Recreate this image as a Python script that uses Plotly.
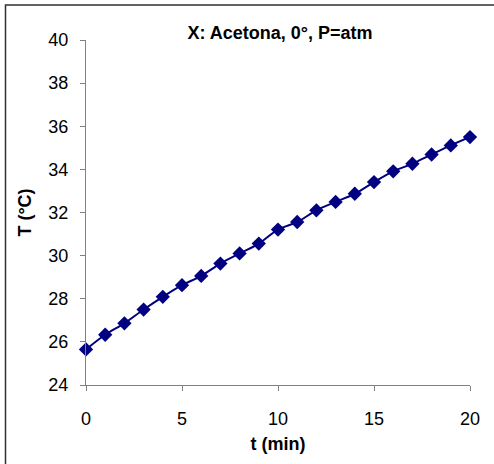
import plotly.graph_objects as go

t_min = list(range(0, 21))
temp_c = [25.65, 26.33, 26.86, 27.50, 28.09, 28.63, 29.06, 29.63, 30.10, 30.56,
          31.21, 31.56, 32.10, 32.49, 32.87, 33.41, 33.91, 34.26, 34.69, 35.11, 35.50]
x_ticks = [0, 5, 10, 15, 20]
y_ticks = [24, 26, 28, 30, 32, 34, 36, 38, 40]

W, H = 494, 464
L, R, T, B = 86, 24, 39.5, 79
pw, ph = W - L - R, H - T - B

fig = go.Figure()
fig.add_trace(go.Scatter(
    x=t_min, y=temp_c, mode="lines+markers",
    line=dict(color="#000080", width=2, shape="spline"),
    marker=dict(symbol="diamond", size=11, color="#000080"),
    showlegend=False, cliponaxis=False,
))

font = "Liberation Sans, Arial, sans-serif"
fig.update_layout(
    width=W, height=H,
    margin=dict(l=L, r=R, t=T, b=B),
    paper_bgcolor="white", plot_bgcolor="white",
    font=dict(family=font, color="black", size=18),
    title=dict(text="<b>X: Acetona, 0°, P=atm</b>", x=280 / W, xanchor="center",
               y=1 - 33 / H, yanchor="middle", font=dict(size=18, family=font)),
    xaxis=dict(range=[0, 20], tickvals=x_ticks, showgrid=False, zeroline=False,
               showline=True, linecolor="#808080", linewidth=1,
               ticks="outside", ticklen=5, tickcolor="#808080", ticklabelstandoff=12,
               tickfont=dict(size=18), title=dict(text="<b>t (min)</b>", font=dict(size=18), standoff=9)),
    yaxis=dict(range=[24, 40], tickvals=y_ticks, showgrid=False, zeroline=False,
               showline=True, linecolor="#808080", linewidth=1,
               ticks="outside", ticklen=5, tickcolor="#808080", ticklabelstandoff=8,
               tickfont=dict(size=18), title=dict(text="<b>T (°C)</b>", font=dict(size=18), standoff=12)),
)

# outer chart border (top/left visible; right/bottom cropped)
fig.add_shape(type="rect", xref="paper", yref="paper",
              x0=(5.5 - L) / pw, x1=(W + 5 - L) / pw,
              y0=(H - B - (H + 5)) / ph, y1=(H - B - 4.5) / ph,
              line=dict(color="#303030", width=1.5), layer="above")

fig.write_html("out.html")
